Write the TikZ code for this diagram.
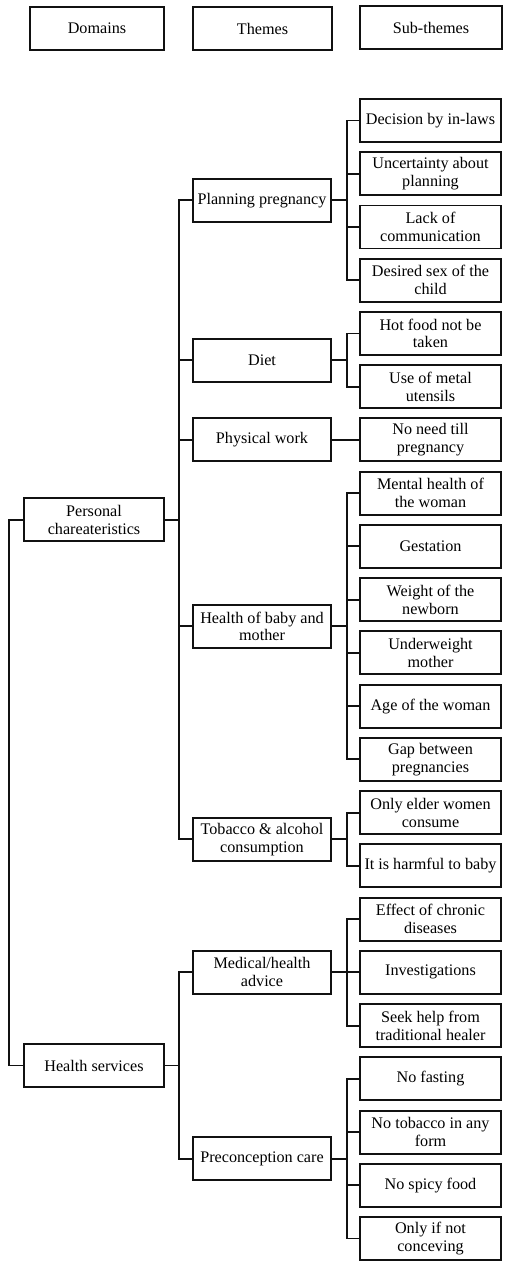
\documentclass[tikz,border=0pt]{standalone}
\usepackage{fontspec}
\setmainfont{Liberation Serif}
\usepackage{tikz}
\usepackage{xcolor}
\definecolor{vizLine}{HTML}{111111}

\tikzset{
  boxBase/.style={draw=vizLine, line width=1.1pt, align=center, inner xsep=0cm, inner ysep=0cm,
    minimum height=0.86cm, font=\fontsize{9.2}{10.1}\selectfont},
  hdrBox/.style={boxBase},
  domBox/.style={boxBase, minimum width=2.80cm},
  themeBox/.style={boxBase, minimum width=2.76cm},
  subBox/.style={boxBase, minimum width=2.82cm},
  linkLine/.style={draw=vizLine, line width=1.1pt}
}

\begin{document}
\begin{tikzpicture}
  \useasboundingbox (0cm,0cm) rectangle (10.18cm,-25.36cm);
  % header row
  \node[hdrBox, minimum width=2.68cm] (hdrDom) at (1.94cm,-0.57cm) {Domains};
  \node[hdrBox, minimum width=2.78cm] (hdrTheme) at (5.25cm,-0.57cm) {Themes};
  \node[hdrBox, minimum width=2.84cm] (hdrSub) at (8.62cm,-0.55cm) {Sub-themes};

  % domains
  \node[domBox] (pers) at (1.88cm,-10.396cm) {Personal\\chareateristics};
  \node[domBox] (hserv) at (1.88cm,-21.31cm) {Health services};

  % themes
  \node[themeBox] (plan) at (5.24cm,-4.007cm) {Planning pregnancy};
  \node[themeBox] (diet) at (5.24cm,-7.202cm) {Diet};
  \node[themeBox] (work) at (5.24cm,-8.798cm) {Physical work};
  \node[themeBox] (hlth) at (5.24cm,-12.526cm) {Health of baby and\\mother};
  \node[themeBox] (tobac) at (5.24cm,-16.785cm) {Tobacco \& alcohol\\consumption};
  \node[themeBox] (medic) at (5.24cm,-19.446cm) {Medical/health\\advice};
  \node[themeBox] (precon) at (5.24cm,-23.173cm) {Preconception care};

  % sub-themes
  \node[subBox] (s1) at (8.61cm,-2.41cm) {Decision by in-laws};
  \node[subBox] (s2) at (8.61cm,-3.474cm) {Uncertainty about\\planning};
  \node[subBox] (s3) at (8.61cm,-4.54cm) {Lack of\\communication};
  \node[subBox] (s4) at (8.61cm,-5.604cm) {Desired sex of the\\child};
  \node[subBox] (s5) at (8.61cm,-6.67cm) {Hot food not be\\taken};
  \node[subBox] (s6) at (8.61cm,-7.734cm) {Use of metal\\utensils};
  \node[subBox] (s7) at (8.61cm,-8.798cm) {No need till\\pregnancy};
  \node[subBox] (s8) at (8.61cm,-9.864cm) {Mental health of\\the woman};
  \node[subBox] (s9) at (8.61cm,-10.928cm) {Gestation};
  \node[subBox] (s10) at (8.61cm,-11.994cm) {Weight of the\\newborn};
  \node[subBox] (s11) at (8.61cm,-13.058cm) {Underweight\\mother};
  \node[subBox] (s12) at (8.61cm,-14.122cm) {Age of the woman};
  \node[subBox] (s13) at (8.61cm,-15.188cm) {Gap between\\pregnancies};
  \node[subBox] (s14) at (8.61cm,-16.252cm) {Only elder women\\consume};
  \node[subBox] (s15) at (8.61cm,-17.318cm) {It is harmful to baby};
  \node[subBox] (s16) at (8.61cm,-18.382cm) {Effect of chronic\\diseases};
  \node[subBox] (s17) at (8.61cm,-19.446cm) {Investigations};
  \node[subBox] (s18) at (8.61cm,-20.512cm) {Seek help from\\traditional healer};
  \node[subBox] (s19) at (8.61cm,-21.576cm) {No fasting};
  \node[subBox] (s20) at (8.61cm,-22.642cm) {No tobacco in any\\form};
  \node[subBox] (s21) at (8.61cm,-23.706cm) {No spicy food};
  \node[subBox] (s22) at (8.61cm,-24.77cm) {Only if not\\conceving};

  % domain links
  \draw[linkLine] (pers.west) -- ++(-0.28cm,0) |- (hserv.west);

  % theme links
  \draw[linkLine] (pers.east) -- ++(0.28cm,0) coordinate (persJ);
  \draw[linkLine] (persJ) |- (plan.west) (persJ) |- (diet.west) (persJ) |- (work.west)
    (persJ) |- (hlth.west) (persJ) |- (tobac.west);
  \draw[linkLine] (hserv.east) -- ++(0.28cm,0) coordinate (hservJ);
  \draw[linkLine] (hservJ) |- (medic.west) (hservJ) |- (precon.west);

  % sub-theme links
  \draw[linkLine] (plan.east) -- ++(0.3cm,0) coordinate (planJ);
  \draw[linkLine] (planJ) |- (s1.west) (planJ) |- (s2.west) (planJ) |- (s3.west) (planJ) |- (s4.west);
  \draw[linkLine] (diet.east) -- ++(0.3cm,0) coordinate (dietJ);
  \draw[linkLine] (dietJ) |- (s5.west) (dietJ) |- (s6.west);
  \draw[linkLine] (work.east) -- (s7.west);
  \draw[linkLine] (hlth.east) -- ++(0.3cm,0) coordinate (hlthJ);
  \draw[linkLine] (hlthJ) |- (s8.west) (hlthJ) |- (s9.west) (hlthJ) |- (s10.west)
    (hlthJ) |- (s11.west) (hlthJ) |- (s12.west) (hlthJ) |- (s13.west);
  \draw[linkLine] (tobac.east) -- ++(0.3cm,0) coordinate (tobacJ);
  \draw[linkLine] (tobacJ) |- (s14.west) (tobacJ) |- (s15.west);
  \draw[linkLine] (medic.east) -- ++(0.3cm,0) coordinate (medicJ);
  \draw[linkLine] (medicJ) |- (s16.west) (medicJ) |- (s17.west) (medicJ) |- (s18.west);
  \draw[linkLine] (precon.east) -- ++(0.3cm,0) coordinate (preconJ);
  \draw[linkLine] (preconJ) |- (s19.west) (preconJ) |- (s20.west) (preconJ) |- (s21.west)
    (preconJ) |- (s22.west);
\end{tikzpicture}
\end{document}
